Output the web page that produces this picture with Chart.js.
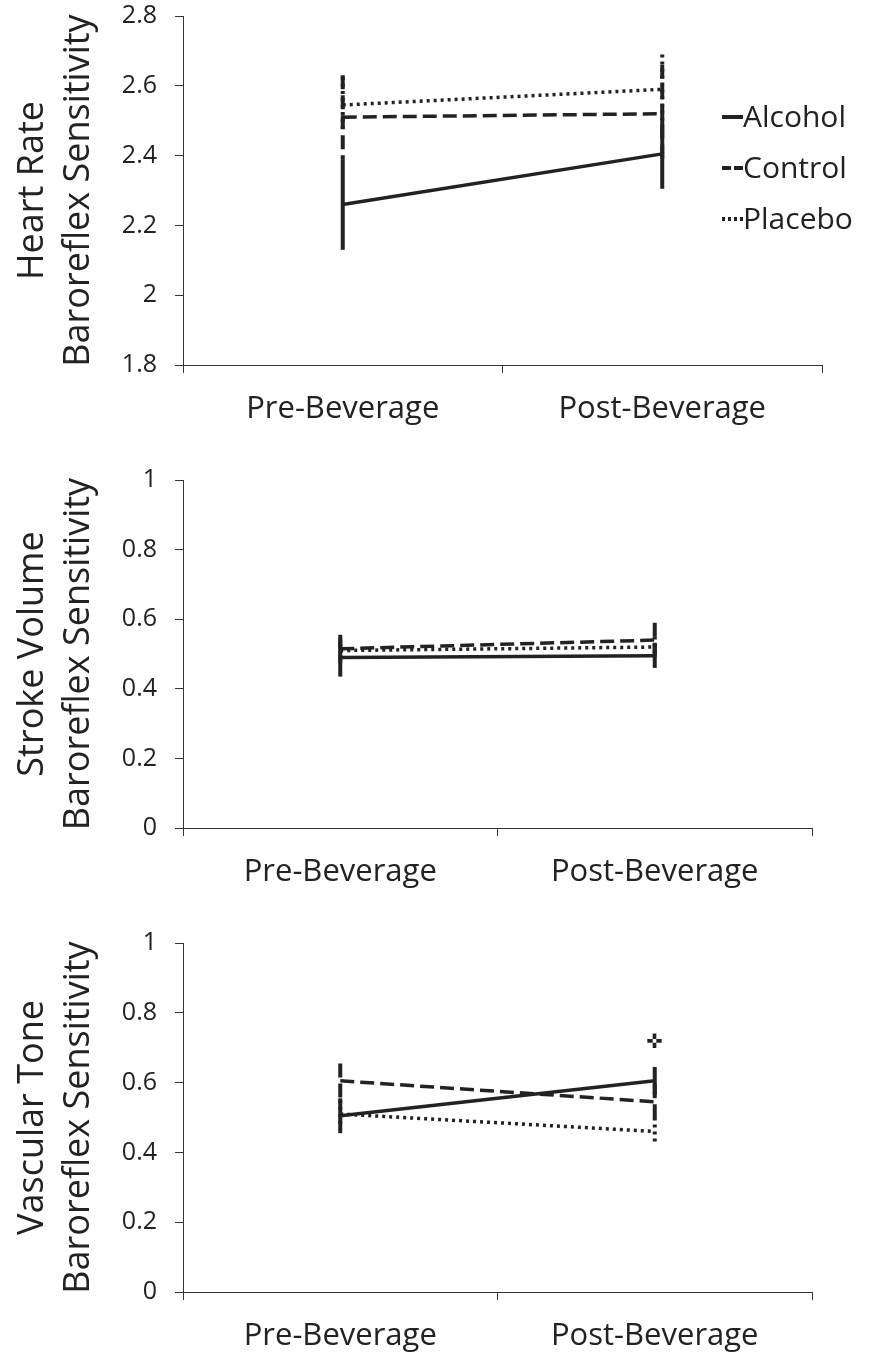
<!DOCTYPE html>
<html>
<head>
<meta charset="utf-8">
<script src="https://cdn.jsdelivr.net/npm/chart.js@4/dist/chart.umd.min.js"></script>
<style>
  body { margin: 0; background: #fff; overflow: hidden; }
  .panel { position: absolute; left: 0; width: 869px; }
</style>
</head>
<body>
<div class="panel" style="top:-30px;height:470px"><canvas id="hrChart"></canvas></div>
<div class="panel" style="top:440px;height:455px"><canvas id="svChart"></canvas></div>
<div class="panel" style="top:895px;height:462px"><canvas id="vtChart"></canvas></div>
<script>
// categories
const categories = ['Pre-Beverage', 'Post-Beverage'];
const seriesNames = ['Alcohol', 'Control', 'Placebo'];

// heart rate BRS
const hrAlcohol = [2.26, 2.405];
const hrControl = [2.51, 2.52];
const hrPlacebo = [2.545, 2.59];
const hrAlcoholErr = [0.13, 0.10];
const hrControlErr = [0.12, 0.14];
const hrPlaceboErr = [0.08, 0.10];
const hrTicks = [1.8, 2, 2.2, 2.4, 2.6, 2.8];

// stroke volume BRS
const svAlcohol = [0.49, 0.495];
const svControl = [0.515, 0.54];
const svPlacebo = [0.51, 0.52];
const svAlcoholErr = [0.055, 0.035];
const svControlErr = [0.04, 0.05];
const svPlaceboErr = [0.02, 0.03];

// vascular tone BRS
const vtAlcohol = [0.505, 0.605];
const vtControl = [0.605, 0.545];
const vtPlacebo = [0.51, 0.46];
const vtAlcoholErr = [0.05, 0.04];
const vtControlErr = [0.05, 0.05];
const vtPlaceboErr = [0.04, 0.04];
const unitTicks = [0, 0.2, 0.4, 0.6, 0.8, 1];

// significance mark (category index, value)
const vtMarkIndex = 1;
const vtMarkValue = 0.715;

const FONT = '"Open Sans", Lato, sans-serif';
const styles = [
    { borderDash: [] },          // Alcohol - solid
    { borderDash: [14, 6] },     // Control - dashed
    { borderDash: [3, 4] }       // Placebo - dotted
];

// 에러 바 그리기
const errorBarPlugin = {
    id: 'errorBars',
    afterDatasetsDraw(chart) {
        const ctx = chart.ctx;
        const y = chart.scales.y;
        chart.data.datasets.forEach((ds, i) => {
            const meta = chart.getDatasetMeta(i);
            ctx.save();
            ctx.strokeStyle = '#222';
            ctx.lineWidth = 4;
            ctx.setLineDash(ds.borderDash || []);
            meta.data.forEach((pt, j) => {
                const v = ds.data[j], e = ds.errors[j];
                ctx.beginPath();
                ctx.moveTo(pt.x, y.getPixelForValue(v + e));
                ctx.lineTo(pt.x, y.getPixelForValue(v - e));
                ctx.stroke();
            });
            ctx.restore();
        });
    }
};

// 범례 (차트 영역 오른쪽)
const legendPlugin = {
    id: 'lineLegend',
    afterDraw(chart, args, opts) {
        if (!opts.show) return;
        const ctx = chart.ctx;
        const area = chart.chartArea;
        const x0 = area.right - 100;
        ctx.save();
        ctx.font = '30px ' + FONT;
        ctx.textBaseline = 'middle';
        ctx.fillStyle = '#222';
        chart.data.datasets.forEach((ds, i) => {
            const yy = area.top + 101 + i * 51;
            ctx.strokeStyle = '#222';
            ctx.lineWidth = 4;
            ctx.setLineDash(i === 1 ? [9, 3] : i === 2 ? [3, 3] : []);
            ctx.beginPath();
            ctx.moveTo(x0, yy);
            ctx.lineTo(x0 + 21, yy);
            ctx.stroke();
            ctx.fillText(ds.label, x0 + 21, yy + 1);
        });
        ctx.restore();
    }
};

// 유의성 표시
const markPlugin = {
    id: 'sigMark',
    afterDraw(chart, args, opts) {
        if (!opts.marks) return;
        const ctx = chart.ctx;
        ctx.save();
        ctx.font = '20px "DejaVu Sans"';
        ctx.textAlign = 'center';
        ctx.textBaseline = 'middle';
        ctx.fillStyle = '#222';
        opts.marks.forEach(m => {
            ctx.fillText('\u271C', chart.scales.x.getPixelForValue(m.index), chart.scales.y.getPixelForValue(m.value));
        });
        ctx.restore();
    }
};

/**
 * 패널 차트를 생성합니다.
 */
function createPanel(canvasId, p) {
    const ctx = document.getElementById(canvasId);
    const datasets = p.series.map((d, i) => ({
        label: seriesNames[i],
        data: d,
        errors: p.errors[i],
        borderColor: '#222',
        borderWidth: 3.5,
        borderDash: styles[i].borderDash,
        pointRadius: 0,
        fill: false,
        tension: 0
    }));
    return new Chart(ctx, {
        type: 'line',
        data: { labels: categories, datasets: datasets },
        plugins: [errorBarPlugin, legendPlugin, markPlugin],
        options: {
            responsive: true,
            maintainAspectRatio: false,
            animation: false,
            layout: { padding: { top: p.top, right: 869 - p.right, left: 0, bottom: 0 } },
            scales: {
                x: {
                    offset: true,
                    grid: { display: true, offset: true, drawOnChartArea: false, drawTicks: true, tickLength: 8, color: '#333', lineWidth: 1 },
                    border: { color: '#333', width: 1 },
                    ticks: { color: '#222', font: { family: FONT, size: 31 }, padding: 18, maxRotation: 0 },
                    afterFit: s => { s.height = p.height - p.bottom; }
                },
                y: {
                    min: p.ticks[0],
                    max: p.ticks[p.ticks.length - 1],
                    afterBuildTicks: s => { s.ticks = p.ticks.map(v => ({ value: v })); },
                    grid: { display: true, drawOnChartArea: false, drawTicks: true, tickLength: 8, color: '#333', lineWidth: 1 },
                    border: { color: '#333', width: 1 },
                    ticks: {
                        color: '#222',
                        font: { family: FONT, size: 25 },
                        padding: 18,
                        callback: v => String(Math.round(v * 10) / 10)
                    },
                    title: {
                        display: true,
                        text: p.title,
                        color: '#222',
                        font: { family: FONT, size: 36, lineHeight: 1.3 },
                        padding: { top: 9, bottom: 0 }
                    },
                    afterFit: s => { s.width = 183; }
                }
            },
            plugins: {
                legend: { display: false },
                tooltip: { enabled: false },
                lineLegend: { show: !!p.legend },
                sigMark: { marks: p.marks || null }
            }
        }
    });
}

createPanel('hrChart', {
    series: [hrAlcohol, hrControl, hrPlacebo],
    errors: [hrAlcoholErr, hrControlErr, hrPlaceboErr],
    ticks: hrTicks,
    title: ['Heart Rate', 'Baroreflex Sensitivity'],
    top: 46, bottom: 395, right: 822, height: 470,
    legend: true
});

createPanel('svChart', {
    series: [svAlcohol, svControl, svPlacebo],
    errors: [svAlcoholErr, svControlErr, svPlaceboErr],
    ticks: unitTicks,
    title: ['Stroke Volume', 'Baroreflex Sensitivity'],
    top: 40, bottom: 388, right: 812, height: 455
});

createPanel('vtChart', {
    series: [vtAlcohol, vtControl, vtPlacebo],
    errors: [vtAlcoholErr, vtControlErr, vtPlaceboErr],
    ticks: unitTicks,
    title: ['Vascular Tone', 'Baroreflex Sensitivity'],
    top: 48, bottom: 397, right: 812, height: 462,
    marks: [{ index: vtMarkIndex, value: vtMarkValue }]
});
</script>
</body>
</html>
